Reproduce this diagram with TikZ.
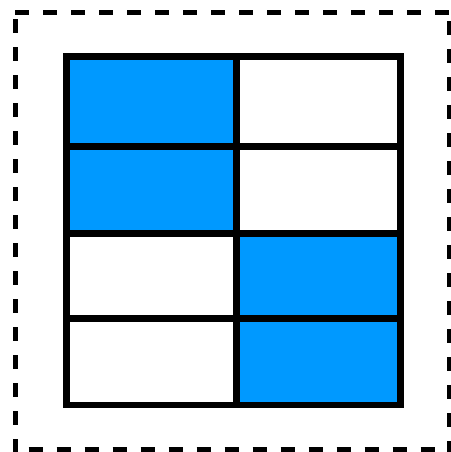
\documentclass[tikz,border=0pt]{standalone}
\definecolor{cellblue}{HTML}{0099FF}
\begin{document}
\begin{tikzpicture}[x=1pt,y=-1pt,
  frame/.style={line width=5pt,dash pattern=on 14pt off 14pt},
  grid/.style={line width=6.8pt}]
\useasboundingbox (0,0) rectangle (450,452);
% dashed frame
\draw[frame] (15,12.5) -- (452,12.5);
\draw[frame] (15,19.3) -- (15,452);
\draw[frame] (449.5,21.3) -- (449.5,452);
\draw[frame] (28.7,449.5) -- (452,449.5);
% blue cells
\fill[cellblue] (66.5,56.5) rectangle (236.7,233);
\fill[cellblue] (236.7,233) rectangle (400.5,405);
% grid
\draw[grid] (66.5,146.5) -- (396.7,146.5);
\draw[grid] (66.5,318.3) -- (396.7,318.3);
\draw[grid] (66.5,233.5) -- (400.5,233.5);
\draw[grid] (236.7,56.5) -- (236.7,405);
\draw[grid] (66.5,56.5) rectangle (400.5,405);
\end{tikzpicture}
\end{document}
